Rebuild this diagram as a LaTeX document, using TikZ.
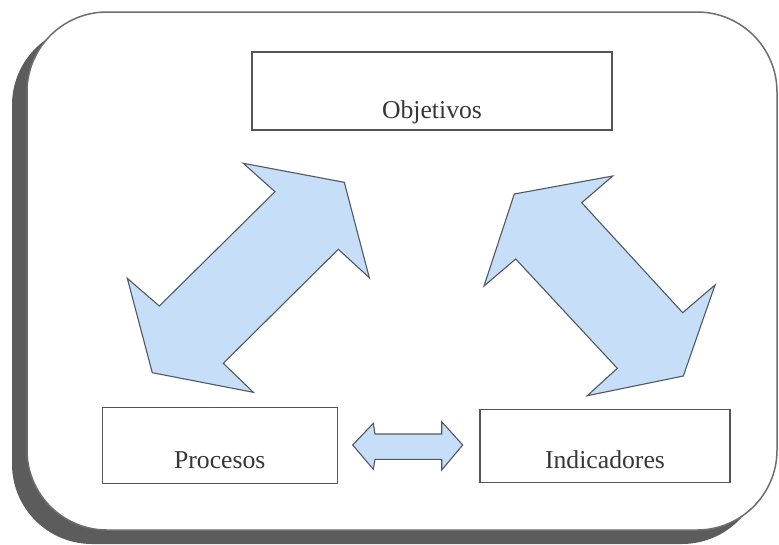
\documentclass[tikz,border=0pt]{standalone}
\usepackage{fontspec}
\setmainfont{Liberation Serif}
\definecolor{arrowfill}{RGB}{198,222,247}
\definecolor{arrowline}{RGB}{80,88,98}
\definecolor{boxline}{RGB}{85,85,85}
\definecolor{shadowgray}{RGB}{92,92,92}
\definecolor{framegray}{RGB}{110,110,110}
\definecolor{textgray}{RGB}{55,55,55}
\tikzset{
  box/.style={draw=boxline, line width=1.4pt, fill=white, rectangle, inner sep=0pt},
  lbl/.style={text=textgray, font=\fontsize{25.7}{30}\selectfont, inner sep=0pt, anchor=base},
  blockarrow/.style={fill=arrowfill, draw=arrowline, line width=1.1pt, line join=miter},
}
\begin{document}
\begin{tikzpicture}[x=1pt,y=-1pt]
\useasboundingbox (0,0) rectangle (779,544);
% shadow and frame
\fill[shadowgray, rounded corners=80pt] (12,25) rectangle (762,544);
\draw[framegray, line width=1.5pt, fill=white, rounded corners=80pt] (27,12) rectangle (777,530);
% boxes
\node[box, minimum width=360pt, minimum height=78pt] (obj) at (432,91) {};
\node[box, minimum width=235pt, minimum height=76pt] (pro) at (219.8,445.3) {};
\node[box, minimum width=250pt, minimum height=73pt] (ind) at (605,445.7) {};
\node[lbl] (tobj) at ([yshift=12pt]obj.south) {Objetivos};
\node[lbl] (tpro) at ([yshift=15.6pt]pro.south) {Procesos};
\node[lbl] (tind) at ([yshift=14pt]ind.south) {Indicadores};
% left diagonal double arrow
\draw[blockarrow] (243.3,163.3) -- (344.3,182.3) -- (369.3,277.7) -- (338.3,249.3)
  -- (223.3,363.3) -- (253.3,392.3) -- (152.3,372.7) -- (127.3,278.3)
  -- (159.3,306) -- (275,191.7) -- cycle;
% right diagonal double arrow
\draw[blockarrow] (612.7,176) -- (581.7,202.7) -- (682.7,312.7) -- (715,285)
  -- (683.3,376) -- (587.3,395.7) -- (617.3,368.3) -- (515.7,259)
  -- (484,286) -- (514.3,194) -- cycle;
% small horizontal double arrow
\draw[blockarrow] (352.7,445) -- (373.3,423.3) -- (375,434) -- (441.7,434)
  -- (441.7,421.7) -- (462.7,445) -- (441.7,470) -- (441.7,459.3)
  -- (375,459.3) -- (373.3,469.3) -- cycle;
\end{tikzpicture}
\end{document}
